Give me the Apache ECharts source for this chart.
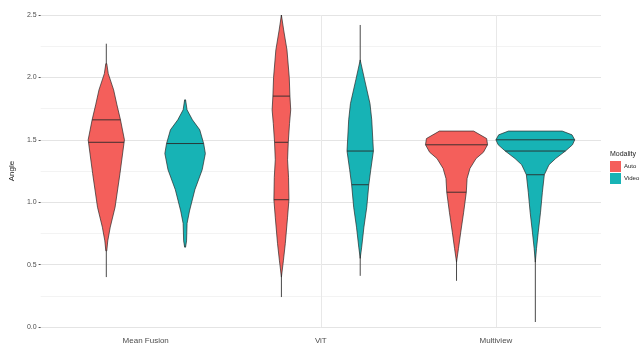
<!DOCTYPE html>
<html>
<head>
<meta charset="utf-8">
<script src="https://cdn.jsdelivr.net/npm/echarts@6/dist/echarts.min.js"></script>
<style>
  html, body { margin: 0; padding: 0; background: #fff; }
  #violinChart { width: 640px; height: 345px; }
</style>
</head>
<body>
<div id="violinChart"></div>
<script>
// categories + groups
var categories = ["Mean Fusion", "ViT", "Multiview"];
var groups = ["Auto", "Video"];

// density profiles, [angle, relative density] from top to bottom
var autoDensity = [
    [[2.11, 0.012], [2.03, 0.05], [1.90, 0.186], [1.78, 0.27], [1.66, 0.36], [1.50, 0.46], [1.23, 0.347], [0.96, 0.223], [0.80, 0.10], [0.69, 0.037], [0.61, 0.012]],
    [[2.50, 0], [2.38, 0.057], [2.22, 0.141], [2.00, 0.199], [1.85, 0.216], [1.74, 0.236], [1.63, 0.206], [1.48, 0.174], [1.34, 0.156], [1.20, 0.181], [1.02, 0.191], [0.88, 0.156], [0.67, 0.099], [0.53, 0.05], [0.40, 0]],
    [[1.57, 0.434], [1.51, 0.764], [1.46, 0.787], [1.40, 0.682], [1.35, 0.496], [1.27, 0.34], [1.19, 0.268], [1.08, 0.248], [0.92, 0.181], [0.76, 0.107], [0.63, 0.05], [0.52, 0]]
];
var videoDensity = [
    [[1.82, 0.012], [1.74, 0.05], [1.66, 0.186], [1.58, 0.372], [1.47, 0.471], [1.39, 0.514], [1.26, 0.434], [1.10, 0.248], [0.93, 0.112], [0.83, 0.05], [0.69, 0.037], [0.64, 0.012]],
    [[2.14, 0], [1.98, 0.112], [1.79, 0.248], [1.66, 0.293], [1.41, 0.335], [1.26, 0.268], [1.14, 0.218], [0.96, 0.166], [0.80, 0.094], [0.64, 0.037], [0.55, 0]],
    [[1.57, 0.682], [1.54, 0.93], [1.50, 1.0], [1.46, 0.943], [1.41, 0.764], [1.35, 0.516], [1.30, 0.347], [1.22, 0.228], [1.08, 0.179], [0.92, 0.132], [0.76, 0.074], [0.63, 0.03], [0.52, 0]]
];

// min / max of each group (the thin line)
var autoRange = [[0.40, 2.27], [0.24, 2.50], [0.37, 1.57]];
var videoRange = [[0.64, 1.82], [0.41, 2.42], [0.04, 1.57]];

// quantile lines
var autoQuantiles = [[1.66, 1.48], [1.85, 1.48, 1.02], [1.46, 1.08]];
var videoQuantiles = [[1.47], [1.41, 1.14], [1.50, 1.41, 1.22]];

var xLabelTicks = [1, 2, 3];
var xGridTicks = [2, 3]; // only these vertical grid lines show in the original

var densities = [autoDensity, videoDensity];
var ranges = [autoRange, videoRange];
var quantiles = [autoQuantiles, videoQuantiles];
var dodge = [-0.225, 0.225];
var halfWidth = 0.225;

function densityAt(profile, v) {
    for (var i = 0; i < profile.length - 1; i++) {
        var a = profile[i], b = profile[i + 1];
        if (v <= a[0] && v >= b[0]) {
            var t = (a[0] - v) / (a[0] - b[0]);
            return a[1] + t * (b[1] - a[1]);
        }
    }
    return 0;
}

function renderViolin(params, api) {
    var g = params.seriesIndex;
    var i = api.value(0);
    var cx = i + 1 + dodge[g];
    var profile = densities[g][i];
    var children = [];

    var lo = api.coord([cx, ranges[g][i][0]]), hi = api.coord([cx, ranges[g][i][1]]);
    children.push({
        type: "line",
        shape: { x1: lo[0], y1: lo[1], x2: hi[0], y2: hi[1] },
        style: { stroke: "#4a4a4a", lineWidth: 1 }
    });

    var pts = [];
    profile.forEach(function (p) { pts.push(api.coord([cx + p[1] * halfWidth, p[0]])); });
    profile.slice().reverse().forEach(function (p) { pts.push(api.coord([cx - p[1] * halfWidth, p[0]])); });
    children.push({
        type: "polygon",
        shape: { points: pts },
        style: { fill: api.visual("color"), stroke: "#2a2a2a", lineWidth: 0.7 }
    });

    quantiles[g][i].forEach(function (q) {
        var d = densityAt(profile, q) * halfWidth;
        var l = api.coord([cx - d, q]), r = api.coord([cx + d, q]);
        children.push({
            type: "line",
            shape: { x1: l[0], y1: l[1], x2: r[0], y2: r[1] },
            style: { stroke: "#2a2a2a", lineWidth: 0.9 }
        });
    });
    return { type: "group", children: children };
}

var dom = document.getElementById("violinChart");
var myChart = echarts.init(dom);
var option = {
    animation: false,
    color: ["#F45F5B", "#17B3B5"],
    textStyle: { fontFamily: "Liberation Sans, Arial, sans-serif" },
    title: {
        text: "Modality", left: 610, top: 151, padding: 0,
        textStyle: { fontSize: 7, fontWeight: "normal", color: "#222" }
    },
    legend: {
        data: groups, orient: "vertical", left: 610, top: 161, padding: 0,
        icon: "rect", itemWidth: 11, itemHeight: 11, itemGap: 1,
        textStyle: { fontSize: 6, color: "#222", padding: [0, 0, 0, -2] }
    },
    grid: { left: 23, right: 39, top: 15, bottom: 18 },
    xAxis: {
        type: "value", min: 0.4, max: 3.6,
        axisLine: { show: false },
        axisTick: { show: false, customValues: xGridTicks },
        axisLabel: {
            customValues: xLabelTicks, margin: 10, fontSize: 8, color: "#4d4d4d",
            formatter: function (v) { return categories[Math.round(v) - 1]; }
        },
        splitLine: { show: true, lineStyle: { color: "#e8e8e8", width: 1 } }
    },
    yAxis: {
        type: "value", min: 0, max: 2.5, interval: 0.5,
        name: "Angle", nameLocation: "middle", nameGap: 16, nameRotate: 90,
        nameTextStyle: { fontSize: 8, color: "#222" },
        axisLine: { show: false },
        axisTick: { show: true, length: 2, lineStyle: { color: "#555" } },
        axisLabel: { fontSize: 7, color: "#4d4d4d", margin: 4, formatter: function (v) { return v.toFixed(1); } },
        splitLine: { show: true, lineStyle: { color: "#e4e4e4", width: 1 } },
        minorTick: { show: false, splitNumber: 2 },
        minorSplitLine: { show: true, lineStyle: { color: "#f3f3f3", width: 1 } }
    },
    series: groups.map(function (name) {
        return {
            name: name,
            type: "custom",
            renderItem: renderViolin,
            encode: { x: 0 },
            data: categories.map(function (c, i) { return [i]; })
        };
    })
};
option && "object" == typeof option && myChart.setOption(option, !0);
</script>
</body>
</html>
